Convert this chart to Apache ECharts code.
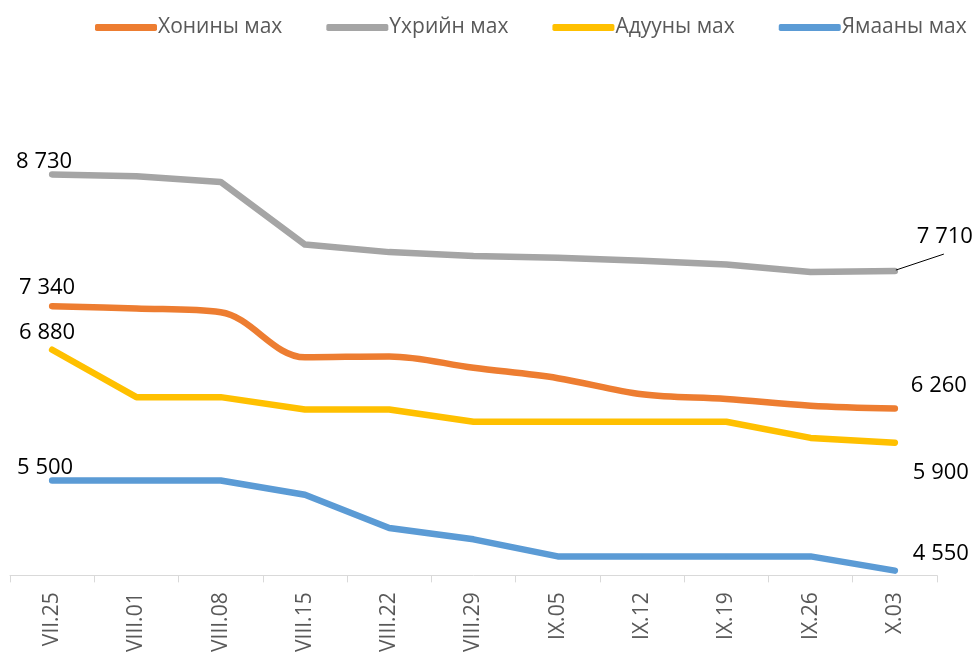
<!DOCTYPE html>
<html>
<head>
<meta charset="utf-8">
<script src="https://cdn.jsdelivr.net/npm/echarts@6/dist/echarts.min.js"></script>
<style>html,body{margin:0;padding:0;background:#fff}#c{width:977px;height:655px}</style>
</head>
<body>
<div id="c"></div>
<script>
const categories = ['VII.25','VIII.01','VIII.08','VIII.15','VIII.22','VIII.29','IX.05','IX.12','IX.19','IX.26','X.03'];
const seriesNames = ['Хонины мах','Үхрийн мах','Адууны мах','Ямааны мах'];
const sheepMeat = [7340,7315,7275,6800,6810,6690,6580,6410,6360,6290,6260];
const beefMeat  = [8730,8710,8650,7990,7910,7870,7850,7820,7780,7700,7710];
const horseMeat = [6880,6380,6380,6250,6250,6120,6120,6120,6120,5950,5900];
const goatMeat  = [5500,5500,5500,5350,5000,4880,4700,4700,4700,4700,4550];

const colors = ['#ED7D31','#A5A5A5','#FFC000','#5B9BD5'];
const FONT = 'Open Sans';
const fmt = v => String(v).replace(/\B(?=(\d{3})+(?!\d))/g, ' ');

// label shifts (first point, last point) per series, relative to the point
const labelShift = [
  [[-5,-18],[44,-23]],
  [[-8,-13],[50,-34]],
  [[-5,-17],[46,30]],
  [[-7,-13],[46,-17]]
];

function buildData(values) {
  const last = values.length - 1;
  return values.map((v, i) => (i === 0 || i === last)
    ? {value: v, label: {show: true, position: 'inside'}}
    : v);
}

const valueSets = [sheepMeat, beefMeat, horseMeat, goatMeat];
const series = valueSets.map((vals, si) => ({
  name: seriesNames[si],
  type: 'line',
  data: buildData(vals),
  smooth: si === 0 ? 0.35 : false,
  symbol: 'circle',
  symbolSize: 2,
  showSymbol: true,
  z: si === 0 ? 5 : 3,
  lineStyle: {color: colors[si], width: 6.5, cap: 'round', join: 'round'},
  itemStyle: {color: colors[si]},
  label: {show: false, formatter: p => fmt(p.value), color: '#000', fontFamily: FONT, fontSize: 22},
  labelLayout: function (p) {
    const last = vals.length - 1;
    if (p.dataIndex !== 0 && p.dataIndex !== last) return {};
    const s = labelShift[si][p.dataIndex === 0 ? 0 : 1];
    return {dx: s[0], dy: s[1]};
  },
  emphasis: {disabled: true}
}));

// leader line for the last beef label, anchored at the data point through the axes
const lastIdx = categories.length - 1;
series.push({
  type: 'custom',
  name: 'leader',
  silent: true,
  z: 6,
  data: [[lastIdx, beefMeat[lastIdx]]],
  renderItem: function (params, api) {
    const pt = api.coord([api.value(0), api.value(1)]);
    return {
      type: 'line',
      shape: {x1: pt[0] + 1, y1: pt[1] - 1, x2: pt[0] + 49, y2: pt[1] - 17},
      style: {stroke: '#000', lineWidth: 1}
    };
  }
});

const chart = echarts.init(document.getElementById('c'), null, {renderer: 'canvas'});
chart.setOption({
  animation: false,
  color: colors,
  legend: {
    data: seriesNames,
    left: 90,
    top: 12,
    icon: 'roundRect',
    itemWidth: 62,
    itemHeight: 7,
    itemGap: 44,
    textStyle: {color: '#595959', fontFamily: FONT, fontSize: 21, padding: [0,0,0,-4]}
  },
  grid: {left: 10, right: 40, top: 54, bottom: 77, containLabel: false},
  xAxis: {
    type: 'category',
    data: categories,
    boundaryGap: true,
    axisLine: {lineStyle: {color: '#D9D9D9', width: 1}},
    axisTick: {show: true, length: 7, lineStyle: {color: '#D9D9D9'}},
    axisLabel: {rotate: 90, margin: 17, color: '#595959', fontFamily: FONT, fontSize: 21}
  },
  yAxis: {
    type: 'value',
    min: 4500,
    max: 10000,
    show: false,
    splitLine: {show: false}
  },
  series: series
});
</script>
</body>
</html>
